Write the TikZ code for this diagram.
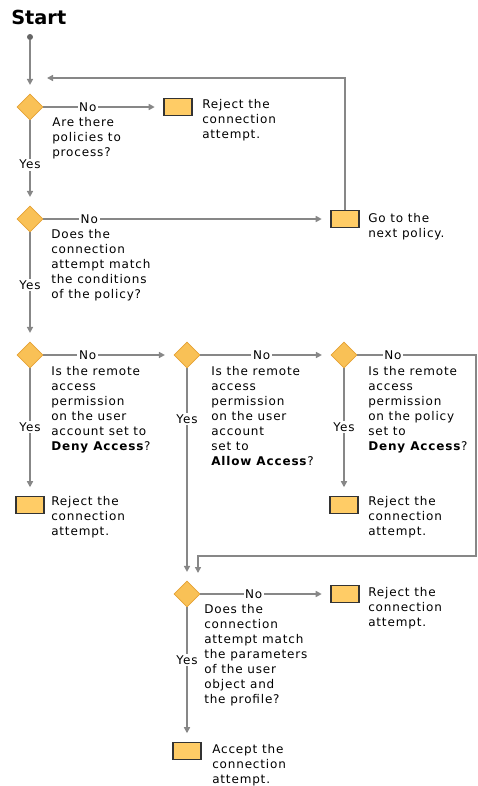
\documentclass[tikz,border=0pt]{standalone}
\usepackage{fontspec}
\newfontfamily\flowfont[LetterSpace=7]{DejaVu Sans}
\newfontfamily\titelfont{DejaVu Sans}
\usetikzlibrary{arrows.meta}
\usetikzlibrary{shapes.geometric}
\definecolor{rautenfarbe}{RGB}{249,193,86}
\definecolor{rautenrand}{RGB}{228,162,52}
\definecolor{kastenfarbe}{RGB}{255,204,102}
\definecolor{liniengrau}{RGB}{135,135,135}

\begin{document}
\begin{tikzpicture}[x=0.75pt, y=-0.75pt, % 1 Einheit = 1 Pixel, y nach unten
  raute/.style={diamond, fill=rautenfarbe, draw=rautenrand, line width=0.6pt, minimum width=19.5pt, minimum height=19.5pt, inner sep=0pt},
  kasten/.style={rectangle, fill=kastenfarbe, draw=black!80, line width=0.9pt, minimum width=21pt, minimum height=12.75pt, inner sep=0pt},
  pfeil/.style={draw=liniengrau, line width=1.1pt, -{Triangle[length=4.5pt,width=4.5pt]}, shorten >=6.5pt},
  frage/.style={anchor=north west, align=left, inner sep=0pt, font=\flowfont\fontsize{9}{11.25}\selectfont},
  marke/.style={fill=white, inner sep=1.2pt, font=\flowfont\fontsize{9}{10}\selectfont}
]
\useasboundingbox (0,0) rectangle (478,786);

% Titel und Startpunkt
\node[anchor=west, inner sep=0pt, font=\titelfont\bfseries\fontsize{14.5}{16}\selectfont] (titel) at (11,17) {Start};
\node[circle, fill=black!60, minimum size=4.5pt, inner sep=0pt] (punkt) at (30,37) {};

% Entscheidungen (Rauten)
\foreach \n/\x/\y in {d1/30/107, d2/30/219, d3/30/355, d4/187/355, d5/344/355, d6/187/594} {
  \node[raute] (\n) at (\x,\y) {};
}

% Ergebnisse (Kaesten)
\foreach \n/\x/\y in {b1/178/107, b2/345/219, b3/30/505, b5/344/505, b6/345/594, b7/187/751} {
  \node[kasten] (\n) at (\x,\y) {};
}

% Texte
\node[frage] (frage1) at (52,117) {Are there\\policies to\\process?};
\node[frage] (abl1) at (202,99) {Reject the\\connection\\attempt.};
\node[frage] (frage2) at (51,229) {Does the\\connection\\attempt match\\the conditions\\of the policy?};
\node[frage] (weiter) at (368,213) {Go to the\\next policy.};
\node[frage] (frage3) at (51,366) {Is the remote\\access\\permission\\on the user\\account set to\\\textbf{Deny Access}?};
\node[frage] (frage4) at (211,366) {Is the remote\\access\\permission\\on the user\\account\\set to\\\textbf{Allow Access}?};
\node[frage] (frage5) at (368,366) {Is the remote\\access\\permission\\on the policy\\set to\\\textbf{Deny Access}?};
\node[frage] (abl3) at (51,496) {Reject the\\connection\\attempt.};
\node[frage] (abl5) at (368,496) {Reject the\\connection\\attempt.};
\node[frage] (frage6) at (204,604) {Does the\\connection\\attempt match\\the parameters\\of the user\\object and\\the profile?};
\node[frage] (abl6) at (368,587) {Reject the\\connection\\attempt.};
\node[frage] (annahme) at (212,744) {Accept the\\connection\\attempt.};

% Hilfspunkte fuer die Rueckfuehrungen
\coordinate (rueck) at (47,78);
\coordinate (ecke1) at (476,355);
\coordinate (ecke2) at (476,556);
\coordinate (ecke3) at (198,556);
\coordinate (einlauf) at (198,573);

% Verbindungen
\draw[pfeil] (punkt) -- (d1);
\draw[pfeil, shorten >=0pt] (b2.north) |- (rueck); % naechste Richtlinie
\draw[pfeil] (d1) -- node[marke, pos=0.37] {No} (b1);
\draw[pfeil] (d1) -- node[marke, pos=0.52] {Yes} (d2);
\draw[pfeil] (d2) -- node[marke, pos=0.16] {No} (b2);
\draw[pfeil] (d2) -- node[marke, pos=0.48] {Yes} (d3);
\draw[pfeil] (d3) -- node[marke, pos=0.34] {No} (d4);
\draw[pfeil] (d3) -- node[marke, pos=0.46] {Yes} (b3);
\draw[pfeil] (d4) -- node[marke, pos=0.47] {No} (d5);
\draw[pfeil] (d4) -- node[marke, pos=0.24] {Yes} (d6);
\draw[pfeil, shorten >=0pt] (d5) -- node[marke, pos=0.30] {No} (ecke1) -- (ecke2) -- (ecke3) -- (einlauf);
\draw[pfeil] (d5) -- node[marke, pos=0.46] {Yes} (b5);
\draw[pfeil] (d6) -- node[marke, pos=0.41] {No} (b6);
\draw[pfeil] (d6) -- node[marke, pos=0.39] {Yes} (b7);

\end{tikzpicture}
\end{document}
